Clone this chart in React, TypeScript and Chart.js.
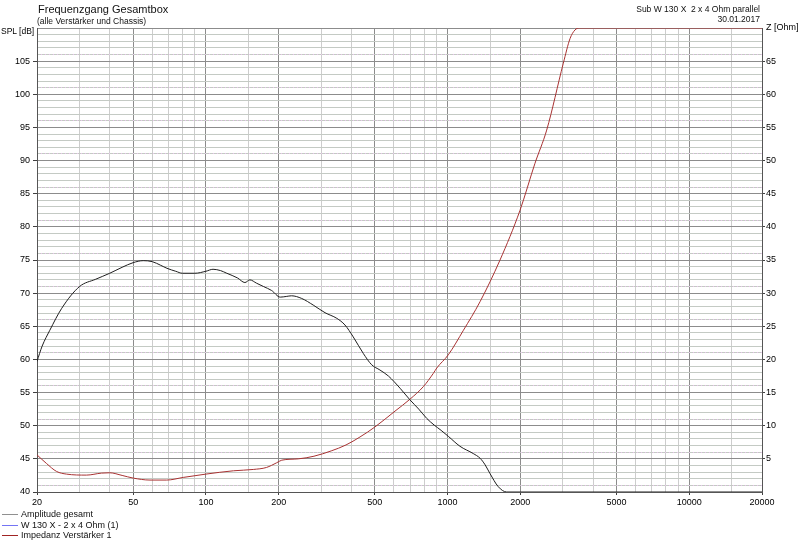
import { useEffect, useRef } from "react";
import { Chart, registerables } from "chart.js";

Chart.register(...registerables);

// SPL curve (dB)
const splFreq = [
  20, 21, 22.6, 25.3, 30, 35, 40, 45, 50, 55, 60, 65, 69, 75, 80, 90, 100, 107, 115, 122,
  135, 145, 152, 162, 173, 187, 203, 215, 226, 249, 278, 311, 348, 376, 407, 448, 485, 525,
  569, 636, 699, 760, 820, 880, 940, 1007, 1125, 1277, 1362, 1430, 1497, 1621, 1756, 2000,
  20000,
];
const splDb = [
  59.7, 62.0, 64.4, 67.7, 71.0, 72.1, 73.0, 73.9, 74.6, 74.9, 74.75, 74.2, 73.75, 73.3, 73.0,
  73.0, 73.3, 73.6, 73.4, 73.0, 72.3, 71.6, 72.0, 71.5, 71.0, 70.4, 69.4, 69.5, 69.6, 69.2,
  68.2, 67.05, 66.2, 65.2, 63.4, 60.9, 59.2, 58.4, 57.5, 55.65, 53.9, 52.5, 51.1, 50.1, 49.3,
  48.4, 46.9, 45.8, 45.1, 44.1, 42.8, 40.8, 40, 40, 40,
];

// impedance curve (Ohm)
const impFreq = [
  20, 21.9, 24.1, 26.5, 32, 37, 40, 45, 50, 58.7, 68.8, 80.6, 100, 130, 157, 178, 196, 206,
  241, 280, 330, 380, 434, 500, 606, 699, 794, 873, 902, 1007, 1163, 1362, 1648, 1994, 2300,
  2571, 3013, 3211, 3366, 3500, 20000,
];
const impOhm = [
  5.6, 4.3, 3.1, 2.7, 2.55, 2.85, 2.9, 2.5, 2.1, 1.8, 1.8, 2.2, 2.7, 3.2, 3.4, 3.7, 4.4, 4.8,
  5.0, 5.4, 6.2, 7.1, 8.3, 9.8, 12.2, 14.0, 15.9, 17.9, 18.7, 20.7, 24.4, 28.7, 35.0, 42.5,
  49.6, 54.6, 64.7, 68.4, 69.7, 70, 70,
];

const xGridFreq = [
  20, 30, 40, 50, 60, 70, 80, 90, 100, 150, 200, 300, 400, 500, 600, 700, 800, 900, 1000,
  1500, 2000, 3000, 4000, 5000, 6000, 7000, 8000, 9000, 10000, 15000, 20000,
];
const xLabelFreq = [20, 50, 100, 200, 500, 1000, 2000, 5000, 10000, 20000];
const pinkRows = [41, 46, 51, 56, 61, 66, 71, 76, 81, 86, 91, 96, 101, 106];

const FONT = "'Liberation Sans', Arial, sans-serif";
const MAJOR = "#8c8c8c";
const MINOR = "#c4cac4";

export default function App() {
  const canvasRef = useRef<HTMLCanvasElement | null>(null);

  useEffect(() => {
    if (!canvasRef.current) return;

    const chart = new Chart(canvasRef.current, {
      type: "line",
      data: {
        datasets: [
          {
            label: "Amplitude gesamt",
            data: splFreq.map((f, i) => ({ x: f, y: splDb[i] })),
            yAxisID: "y",
            borderColor: "#1e1e1e",
            borderWidth: 1,
            pointRadius: 0,
            cubicInterpolationMode: "monotone",
          },
          {
            // lies under the total curve, not visible in the picture
            label: "W 130 X - 2 x 4 Ohm (1)",
            data: splFreq.map((f, i) => ({ x: f, y: splDb[i] })),
            yAxisID: "y",
            borderColor: "#7878d8",
            borderWidth: 1,
            pointRadius: 0,
            hidden: true,
          },
          {
            label: "Impedanz Verstärker 1",
            data: impFreq.map((f, i) => ({ x: f, y: impOhm[i] })),
            yAxisID: "z",
            borderColor: "#a83232",
            borderWidth: 1,
            pointRadius: 0,
            cubicInterpolationMode: "monotone",
          },
        ],
      },
      options: {
        animation: false,
        responsive: true,
        maintainAspectRatio: false,
        layout: { padding: { left: 0, right: 0, top: 28, bottom: 30 } },
        plugins: { legend: { display: false }, tooltip: { enabled: false } },
        scales: {
          x: {
            type: "logarithmic",
            min: 20,
            max: 20000,
            afterBuildTicks: (scale) => {
              scale.ticks = xGridFreq.map((v) => ({ value: v }));
            },
            afterFit: (scale) => {
              scale.height = 18;
            },
            ticks: {
              autoSkip: false,
              maxRotation: 0,
              padding: 2,
              color: "#000",
              font: { family: FONT, size: 9 },
              callback: (value) => (xLabelFreq.includes(Number(value)) ? String(value) : ""),
            },
            grid: {
              tickLength: 3,
              color: (ctx) =>
                xLabelFreq.includes(ctx.tick?.value) && ctx.tick.value !== 20 ? MAJOR : "#cdcdcd",
              tickColor: (ctx) => (xLabelFreq.includes(ctx.tick?.value) ? "#404040" : "rgba(0,0,0,0)"),
            },
            border: { color: "#555" },
          },
          y: {
            position: "left",
            min: 40,
            max: 110,
            afterFit: (scale) => {
              scale.width = 37;
            },
            ticks: {
              stepSize: 1,
              autoSkip: false,
              padding: 3,
              color: "#000",
              font: { family: FONT, size: 9 },
              callback: (value) => {
                const v = Number(value);
                return v % 5 === 0 && v < 110 ? String(v) : "";
              },
            },
            grid: {
              tickLength: 4,
              color: (ctx) => (ctx.tick?.value % 5 === 0 ? MAJOR : MINOR),
              tickColor: (ctx) =>
                ctx.tick?.value % 5 === 0 && ctx.tick.value < 110 ? "#404040" : "rgba(0,0,0,0)",
            },
            border: { color: "#555" },
          },
          pink: {
            position: "left",
            min: 40,
            max: 110,
            afterBuildTicks: (scale) => {
              scale.ticks = pinkRows.map((v) => ({ value: v }));
            },
            afterFit: (scale) => {
              scale.width = 0;
            },
            ticks: { display: false },
            grid: { drawTicks: false, color: "#e8c4ec" },
            border: { display: false, dash: [1, 3] },
          },
          z: {
            position: "right",
            min: 0,
            max: 70,
            afterFit: (scale) => {
              scale.width = 38;
            },
            ticks: {
              stepSize: 5,
              autoSkip: false,
              padding: 1,
              color: "#000",
              font: { family: FONT, size: 9 },
              callback: (value) => {
                const v = Number(value);
                if (v === 70) return "Z [Ohm]";
                return v === 0 ? "" : String(v);
              },
            },
            grid: {
              drawOnChartArea: false,
              tickLength: 3,
              tickColor: (ctx) =>
                ctx.tick?.value > 0 && ctx.tick.value < 70 ? "#404040" : "rgba(0,0,0,0)",
            },
            border: { color: "#555" },
          },
        },
      },
    });

    return () => {
      chart.destroy();
    };
  }, []);

  const text = { position: "absolute" as const, fontFamily: FONT, color: "#111", whiteSpace: "nowrap" as const };
  const legend = [
    { label: "Amplitude gesamt", color: "#909090" },
    { label: "W 130 X - 2 x 4 Ohm (1)", color: "#7474f4" },
    { label: "Impedanz Verstärker 1", color: "#a02424" },
  ];

  return (
    <div style={{ position: "absolute", left: 0, top: 0, width: 800, height: 540, background: "#fff" }}>
      <canvas ref={canvasRef}></canvas>
      <div style={{ ...text, left: 38, top: 3, fontSize: 11 }}>Frequenzgang Gesamtbox</div>
      <div style={{ ...text, left: 37, top: 16, fontSize: 8.5 }}>(alle Verstärker und Chassis)</div>
      <div style={{ ...text, right: 40, top: 4, fontSize: 8.5 }}>Sub W 130 X&nbsp; 2 x 4 Ohm parallel</div>
      <div style={{ ...text, right: 40, top: 14, fontSize: 8.5 }}>30.01.2017</div>
      <div style={{ ...text, left: 1, top: 26, fontSize: 8.5, color: "#000" }}>SPL [dB]</div>
      {legend.map((item, i) => (
        <div key={item.label} style={{ ...text, left: 2, top: 509 + i * 10.5, fontSize: 9, lineHeight: "11px" }}>
          <span
            style={{
              display: "inline-block",
              width: 16,
              height: 1,
              background: item.color,
              verticalAlign: "middle",
              marginRight: 3,
            }}
          ></span>
          {item.label}
        </div>
      ))}
    </div>
  );
}
